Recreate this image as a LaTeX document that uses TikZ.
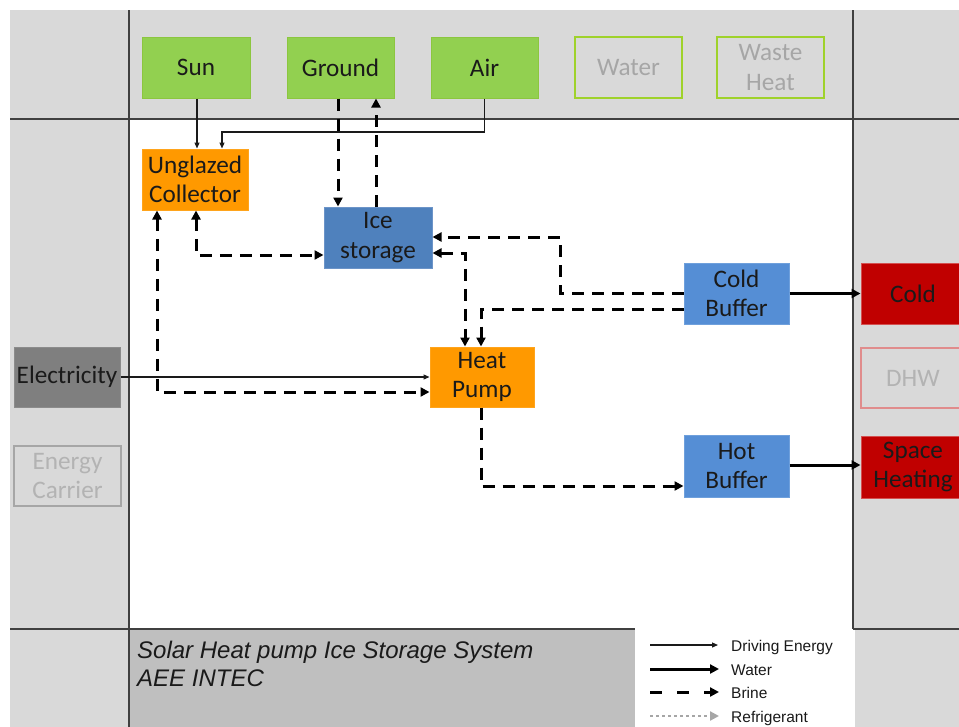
\documentclass[tikz,border=0pt]{standalone}
\usepackage{fontspec}
\setmainfont{Carlito}
\newfontfamily\arialf{Liberation Sans}
\usetikzlibrary{arrows.meta}

\definecolor{bglight}{HTML}{D9D9D9}
\definecolor{bgtitle}{HTML}{BFBFBF}
\definecolor{gridline}{HTML}{404040}
\definecolor{srcgreen}{HTML}{92D050}
\definecolor{srcedge}{HTML}{8CC63F}
\definecolor{limeedge}{HTML}{9FD22B}
\definecolor{offtext}{HTML}{A6A6A6}
\definecolor{orangefill}{HTML}{FF9900}
\definecolor{orangeedge}{HTML}{FFA41C}
\definecolor{iceblue}{HTML}{4F81BD}
\definecolor{iceedge}{HTML}{6C94C8}
\definecolor{bufblue}{HTML}{558ED5}
\definecolor{bufedge}{HTML}{6FA0DC}
\definecolor{sinkred}{HTML}{C00000}
\definecolor{sinkedge}{HTML}{D45050}
\definecolor{dhwedge}{HTML}{E08C8C}
\definecolor{elecgrey}{HTML}{7F7F7F}
\definecolor{elecedge}{HTML}{8C8C8C}
\definecolor{inktext}{HTML}{1A1A1A}
\definecolor{refgrey}{HTML}{A6A6A6}

\tikzset{
  box/.style={rectangle, inner sep=0pt, align=center, line width=1pt,
    text=inktext, font=\fontsize{25.2}{29.5}\selectfont},
  srcbox/.style={box, fill=srcgreen, draw=srcedge},
  srcoff/.style={box, fill=bglight, draw=limeedge, line width=1.6pt, text=offtext},
  orangebox/.style={box, fill=orangefill, draw=orangeedge},
  icebox/.style={box, fill=iceblue, draw=iceedge},
  bufbox/.style={box, fill=bufblue, draw=bufedge},
  sinkbox/.style={box, fill=sinkred, draw=sinkedge},
  sinkoff/.style={box, fill=bglight, draw=dhwedge, line width=1.6pt, text=offtext!85},
  elecbox/.style={box, fill=elecgrey, draw=elecedge},
  carrieroff/.style={box, fill=bglight, draw=offtext, line width=1.6pt, text=offtext!85},
  drive/.style={draw=inktext, line width=1.2pt, -{Triangle[length=6pt,width=5pt]}},
  water/.style={draw=black, line width=3pt, -{Triangle[length=9pt,width=9pt]}},
  brine/.style={draw=black, line width=3pt, dash pattern=on 12pt off 8pt,
    -{Triangle[length=9pt,width=9pt]}},
  brinetwo/.style={brine, {Triangle[length=9pt,width=9pt]}-{Triangle[length=9pt,width=9pt]}},
  refrig/.style={draw=refgrey, line width=2.5pt, dash pattern=on 2.5pt off 3.5pt,
    -{Triangle[length=9pt,width=9pt,fill=refgrey]}},
  legtext/.style={anchor=base west, inner sep=0pt, text=inktext,
    font=\arialf\fontsize{15.5}{18}\selectfont},
  titletext/.style={anchor=base west, inner sep=0pt, text=inktext,
    font=\arialf\itshape\fontsize{24}{28}\selectfont},
  grid/.style={draw=gridline, line width=2pt}
}

\begin{document}
\begin{tikzpicture}[x=1pt,y=-1pt]
  % page and background panels
  \useasboundingbox (0,0) rectangle (959,726);
  \fill[white] (0,0) rectangle (959,726);
  \fill[bglight] (10,10) rectangle (970,736);
  \fill[white] (129,119) rectangle (853,629);
  \fill[white] (635,629) rectangle (855,736);
  \fill[bgtitle] (129,629) rectangle (635,736);

  % frame lines
  \draw[grid] (129,10) -- (129,736);
  \draw[grid] (10,119) -- (970,119);
  \draw[grid] (853,10) -- (853,629);
  \draw[grid] (10,629) -- (635,629);
  \draw[grid] (853,629) -- (970,629);

  % sources
  \node[srcbox, minimum width=108pt, minimum height=61pt] (sun) at (196,67.5) {Sun};
  \node[srcbox, minimum width=107pt, minimum height=61pt] (ground) at (340.5,67.5) {Ground};
  \node[srcbox, minimum width=107pt, minimum height=61pt] (air) at (484.5,67.5) {Air};
  \node[srcoff, minimum width=107pt, minimum height=61pt] (water) at (628.5,67.5) {Water};
  \node[srcoff, minimum width=107pt, minimum height=61pt] (waste) at (770.5,67.5) {Waste\\Heat};

  % components
  \node[orangebox, minimum width=106pt, minimum height=61pt] (coll) at (195,179.5) {Unglazed\\Collector};
  \node[icebox, minimum width=108pt, minimum height=61pt] (ice) at (378,237.5) {Ice\\storage};
  \node[orangebox, minimum width=104pt, minimum height=60pt] (hp) at (482,377) {Heat\\Pump};
  \node[bufbox, minimum width=105pt, minimum height=61pt] (cbuf) at (736.5,293.5) {Cold\\Buffer};
  \node[bufbox, minimum width=105pt, minimum height=62pt] (hbuf) at (736.5,466) {Hot\\Buffer};

  % sinks
  \node[sinkbox, minimum width=104pt, minimum height=61pt] (cold) at (913,293.5) {Cold};
  \node[sinkoff, minimum width=104pt, minimum height=60pt] (dhw) at (913,378) {DHW};
  \node[sinkbox, minimum width=104pt, minimum height=62pt] (heat) at (913,467) {Space\\Heating};

  % energy carriers
  \node[elecbox, minimum width=106pt, minimum height=60pt] (elec) at (67,377) {Electricity};
  \node[carrieroff, minimum width=107pt, minimum height=60pt] (carrier) at (67.5,476) {Energy\\Carrier};

  % driving energy
  \draw[drive] (sun.south -| 197,0) -- (coll.north -| 197,0);
  \draw[drive] (air.south) -- (air.south |- 0,132) -| (coll.north -| 222,0);
  \draw[drive] (elec.east) -- (hp.west);

  % brine circuits
  \draw[brine] (ground.south -| 338,0) -- (ice.north -| 338,0);
  \draw[brine] (ice.north -| 376,0) -- (ground.south -| 376,0);
  \draw[brinetwo] (coll.south -| 196,0) |- (ice.west |- 0,255);
  \draw[brinetwo] (coll.south -| 157,0) |- (hp.west |- 0,392);
  \draw[brine] (cbuf.west |- 0,293) -- (560,293) -- (560,237) -- (ice.east |- 0,237);
  \draw[brine] (cbuf.west |- 0,309) -| (hp.north -| 481,0);
  \draw[brinetwo] (ice.east |- 0,253) -| (hp.north -| 465,0);
  \draw[brine] (hp.south -| 481,0) |- (hbuf.west |- 0,486);

  % water
  \draw[water] (cbuf.east) -- (cold.west);
  \draw[water] (hbuf.east |- 0,465) -- (heat.west |- 0,465);

  % title
  \node[titletext] (title1) at (137,658) {Solar Heat pump Ice Storage System};
  \node[titletext] (title2) at (137,686) {AEE INTEC};

  % legend
  \node[legtext] (lgdrive) at (731,651) {Driving Energy};
  \node[legtext] (lgwater) at (731,675) {Water};
  \node[legtext] (lgbrine) at (731,698) {Brine};
  \node[legtext] (lgrefr) at (731,722) {Refrigerant};
  \coordinate (ldrive) at (650,645);
  \coordinate (lwater) at (650,669);
  \coordinate (lbrine) at (650,692);
  \coordinate (lrefr) at (650,716);
  \draw[drive] (ldrive) -- ([xshift=-13pt]lgdrive.west |- ldrive);
  \draw[water] (lwater) -- ([xshift=-12pt]lgwater.west |- lwater);
  \draw[brine, dash pattern=on 12pt off 15pt] (lbrine) -- ([xshift=-12pt]lgbrine.west |- lbrine);
  \draw[refrig] (lrefr) -- ([xshift=-12pt]lgrefr.west |- lrefr);
\end{tikzpicture}
\end{document}
